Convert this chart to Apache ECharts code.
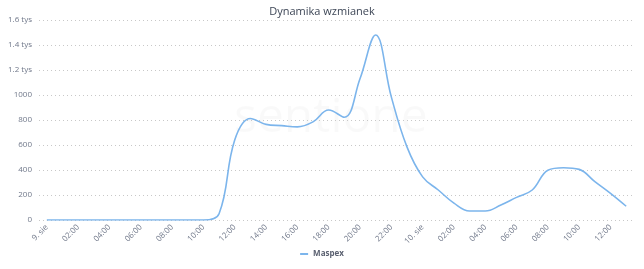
<!DOCTYPE html>
<html>
<head>
<meta charset="utf-8">
<script src="https://cdn.jsdelivr.net/npm/echarts@6/dist/echarts.min.js"></script>
<style>
html,body{margin:0;padding:0;background:#fff;}
#c{width:644px;height:269px;}
</style>
</head>
<body>
<div id="c"></div>
<script>
var chartTitle = 'Dynamika wzmianek';
var seriesName = 'Maspex';
var categories = ['9. sie','01:00','02:00','03:00','04:00','05:00','06:00','07:00','08:00','09:00','10:00','11:00','12:00','13:00','14:00','15:00','16:00','17:00','18:00','19:00','20:00','21:00','22:00','23:00',
  '10. sie','01:00','02:00','03:00','04:00','05:00','06:00','07:00','08:00','09:00','10:00','11:00','12:00','13:00'];
var values = [0,0,0,0,0,0,0,0,0,0,0,50,640,812,765,755,745,785,880,822,1130,1480,985,585,
  345,240,135,72,72,120,181,240,398,418,405,307,213,110];
var yTicks = [0,200,400,600,800,1000,1200,1400,1600];
var yTickLabels = ['0','200','400','600','800','1000','1.2 tys','1.4 tys','1.6 tys'];

var chart = echarts.init(document.getElementById('c'), null, {renderer:'canvas'});
chart.setOption({
  animation:false,
  backgroundColor:'#fff',
  title:{text:chartTitle,left:'center',top:1,textStyle:{fontFamily:'Open Sans',fontSize:11,fontWeight:'normal',color:'#3d4656'}},
  graphic:[{type:'text',left:234,top:94,silent:true,style:{text:'sentione',fontFamily:'Open Sans',fontSize:48,fontWeight:'normal',fill:'rgba(0,0,0,0.025)'}}],
  legend:{bottom:6,left:'center',icon:'rect',itemWidth:8,itemHeight:2,itemGap:6,
    textStyle:{fontFamily:'Open Sans',fontSize:8,fontWeight:'bold',color:'#5a6070'},data:[seriesName]},
  grid:{left:39,right:10,top:20,bottom:49},
  xAxis:{type:'category',data:categories,boundaryGap:true,
    axisLine:{show:false},axisTick:{show:false},splitLine:{show:false},
    axisLabel:{interval:1,rotate:45,fontFamily:'Open Sans',fontSize:8,color:'#70788a',margin:6}},
  yAxis:{type:'value',min:0,max:1600,interval:200,
    axisLine:{show:false},axisTick:{show:false},
    splitLine:{lineStyle:{type:[1,3],color:'#c8c8c8',width:1}},
    axisLabel:{fontFamily:'Open Sans',fontSize:8,color:'#70788a',margin:7,
      formatter:function(v){var i=yTicks.indexOf(v);return i>=0?yTickLabels[i]:'';}}},
  series:[{name:seriesName,type:'line',data:values,smooth:0.4,showSymbol:false,
    lineStyle:{color:'#7cb5ec',width:1.6},itemStyle:{color:'#7cb5ec'}}]
});
</script>
</body>
</html>
